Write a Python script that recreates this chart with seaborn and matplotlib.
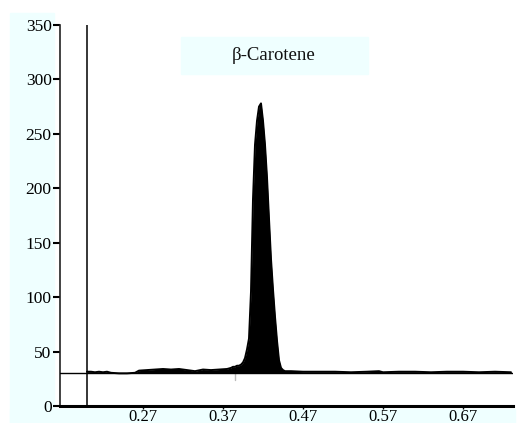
import matplotlib
matplotlib.use("Agg")
import matplotlib.pyplot as plt
import matplotlib.patches as mpatches
import seaborn as sns
import pandas as pd

# ---- data ----
base_left_x = [0.200, 0.205, 0.210, 0.215, 0.220, 0.225, 0.230, 0.240, 0.250, 0.260,
               0.265, 0.275, 0.285, 0.295, 0.305, 0.315, 0.325, 0.335, 0.345, 0.355,
               0.365, 0.375]
base_left_y = [31.5, 31.5, 31.0, 31.5, 31.0, 31.5, 30.5, 30.0, 30.0, 30.5,
               32.5, 33.0, 33.5, 34.0, 33.5, 34.0, 33.0, 32.0, 33.5, 33.0,
               33.5, 34.0]
peak_x = [0.380, 0.3825, 0.385, 0.3875, 0.390, 0.3925, 0.395, 0.3975, 0.400, 0.4025,
          0.405, 0.4075, 0.410, 0.4125, 0.415, 0.4175, 0.420, 0.4225, 0.425, 0.4275,
          0.430, 0.4325, 0.435, 0.4375, 0.440, 0.4425, 0.445, 0.4475]
peak_y = [35, 36, 36, 37, 37, 38, 40, 44, 52, 62,
          105, 190, 240, 262, 275, 278, 262, 240, 210, 172,
          135, 107, 82, 60, 42, 35, 33, 32]
base_right_x = [0.455, 0.470, 0.490, 0.510, 0.530, 0.550, 0.565, 0.570, 0.590, 0.610,
                0.630, 0.650, 0.670, 0.690, 0.710, 0.730]
base_right_y = [32.0, 31.5, 31.5, 31.5, 31.0, 31.5, 32.0, 31.0, 31.5, 31.5,
                31.0, 31.5, 31.5, 31.0, 31.5, 31.0]

x_ticks = [0.27, 0.37, 0.47, 0.57, 0.67]
x_tick_labels = ["0.27", "0.37", "0.47", "0.57", "0.67"]
y_ticks = [0, 50, 100, 150, 200, 250, 300, 350]
baseline_level = 30
marker_x = 0.20
title_text = "β-Carotene"

df = pd.DataFrame({"x": base_left_x + peak_x + base_right_x,
                   "y": base_left_y + peak_y + base_right_y})

sns.set_style("white")
plt.rcParams["font.family"] = ["Liberation Serif", "DejaVu Serif"]

W, H = 521, 423
fig = plt.figure(figsize=(W / 100, H / 100), dpi=100, facecolor="white")

cyan = "#EFFFFF"
# background strips
fig.patches.append(mpatches.Rectangle((10 / W, 0), 44 / W, (H - 13) / H,
                                      transform=fig.transFigure, color=cyan, zorder=-5))
fig.patches.append(mpatches.Rectangle((10 / W, 0), 505 / W, 14 / H,
                                      transform=fig.transFigure, color=cyan, zorder=-5))

ax = fig.add_axes([60 / W, 17 / H, 453 / W, 381 / H])
ax.set_zorder(2)
ax.set_facecolor("white")

ax.fill_between(df["x"], df["y"], baseline_level, color="black", linewidth=0, zorder=3)
sns.lineplot(data=df, x="x", y="y", ax=ax, color="black", linewidth=1.4,
             estimator=None, sort=False, zorder=4)

ax.axhline(baseline_level, color="black", linewidth=1.0, zorder=5)
ax.axvline(marker_x, color="black", linewidth=1.1, zorder=5)
ax.plot([0.385, 0.385], [24, 30], color="#bbbbbb", linewidth=1.0, zorder=2)

ax.set_xlim(0.16625, 0.7325)
ax.set_ylim(0, 350)
ax.set_xticks(x_ticks)
ax.set_xticklabels(x_tick_labels)
ax.set_yticks(y_ticks)
ax.set_yticklabels([str(v) for v in y_ticks])
ax.set_xlabel("")
ax.set_ylabel("")

for s in ["top", "right"]:
    ax.spines[s].set_visible(False)
ax.spines["left"].set_color("#222222")
ax.spines["left"].set_linewidth(1.2)
ax.spines["bottom"].set_color("black")
ax.spines["bottom"].set_linewidth(2.2)

ax.tick_params(axis="y", direction="out", length=5, width=1.5, color="black",
               labelsize=12.5, pad=1, left=True, labelleft=True, labelcolor="black")
ax.tick_params(axis="x", direction="out", length=2, width=1.0, color="black",
               labelsize=12, pad=0, bottom=True, labelbottom=True, labelcolor="black")

# title box
ax.add_patch(mpatches.Rectangle((121 / 453, 332 / 381), 187 / 453, 37 / 381,
                                transform=ax.transAxes, color=cyan, zorder=1,
                                clip_on=False))
ax.text(214 / 453, 351 / 381, title_text, transform=ax.transAxes,
        ha="center", va="center", fontsize=13.5, color="#111111", zorder=6)

fig.savefig("out.png", dpi=100, facecolor="white")
